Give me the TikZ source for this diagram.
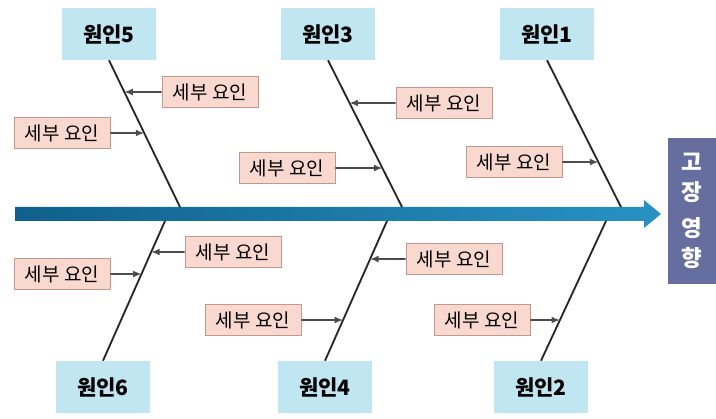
\documentclass[tikz,border=0pt]{standalone}
\usepackage{fontspec}
\setmainfont{Noto Sans CJK KR}
\usetikzlibrary{arrows.meta,positioning}

\definecolor{causefill}{RGB}{192,230,241}
\definecolor{detailfill}{RGB}{249,216,208}
\definecolor{detailline}{RGB}{196,150,140}
\definecolor{spinedark}{RGB}{16,96,140}
\definecolor{spinelight}{RGB}{40,146,196}
\definecolor{effectfill}{RGB}{102,110,160}

\begin{document}
\begin{tikzpicture}[x=0.025cm, y=-0.025cm,
    cause/.style={fill=causefill, minimum width=2.35cm, minimum height=1.3cm,
      font=\fontsize{15}{15}\selectfont\bfseries},
    detail/.style={fill=detailfill, draw=detailline, minimum width=2.4cm,
      minimum height=0.78cm, inner sep=1pt, font=\fontsize{13.5}{13.5}\selectfont},
    bone/.style={line width=1.3pt, black!85},
    link/.style={-{Latex[length=6pt,width=5pt]}, line width=1.1pt, black!70}]

  \useasboundingbox (0,0) rectangle (716,419);

  % Spine
  \shade[left color=spinedark, right color=spinelight]
    (15,207) -- (644,207) -- (644,200) -- (661,214) -- (644,228) -- (644,221) -- (15,221) -- cycle;

  % Effect
  \node[fill=effectfill, text=white, minimum width=1.2cm, minimum height=3.65cm,
    align=center, font=\fontsize{16}{21}\selectfont\bfseries] (effect) at (692,211)
    {고\\장\\[5pt]영\\향};

  % Causes
  \node[cause] (c5) at (109,34) {원인5};
  \node[cause] (c3) at (328,34) {원인3};
  \node[cause] (c1) at (547,34) {원인1};
  \node[cause] (c6) at (103,387) {원인6};
  \node[cause] (c4) at (325,387) {원인4};
  \node[cause] (c2) at (541,387) {원인2};

  \coordinate (j5) at (180,207);
  \coordinate (j3) at (402,207);
  \coordinate (j1) at (621,207);
  \coordinate (j6) at (165,221);
  \coordinate (j4) at (387,221);
  \coordinate (j2) at (606,221);

  \foreach \c/\j in {c5/j5, c3/j3, c1/j1}
    \draw[bone] (\c.south) -- (\j);
  \foreach \c/\j in {c6/j6, c4/j4, c2/j2}
    \draw[bone] (\c.north) -- (\j);

  % Details
  \node[detail] (a1) at (210,92) {세부 요인};
  \node[detail] (a2) at (62,133) {세부 요인};
  \node[detail] (a3) at (287,168) {세부 요인};
  \node[detail] (a4) at (444,103) {세부 요인};
  \node[detail] (a5) at (514,162) {세부 요인};
  \node[detail] (b1) at (233,252) {세부 요인};
  \node[detail] (b2) at (62,274) {세부 요인};
  \node[detail] (b3) at (253,320) {세부 요인};
  \node[detail] (b4) at (454,259) {세부 요인};
  \node[detail] (b5) at (482,320) {세부 요인};

  \foreach \d/\c/\j in {a1/c5/j5, a2/c5/j5, a3/c3/j3, a4/c3/j3, a5/c1/j1} {
    \coordinate (t-\d) at (intersection of \d.west--\d.east and \c.south--\j);
    \draw[link] (\d) -- (t-\d);
  }
  \foreach \d/\c/\j in {b1/c6/j6, b2/c6/j6, b3/c4/j4, b4/c4/j4, b5/c2/j2} {
    \coordinate (t-\d) at (intersection of \d.west--\d.east and \c.north--\j);
    \draw[link] (\d) -- (t-\d);
  }

\end{tikzpicture}
\end{document}
